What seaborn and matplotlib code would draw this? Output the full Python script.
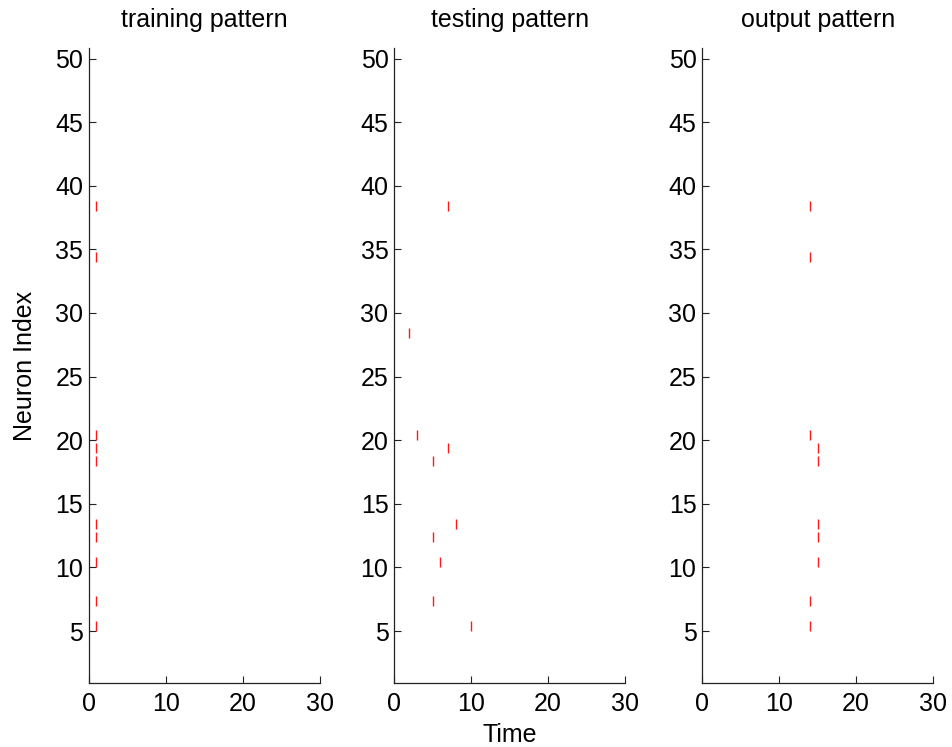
import numpy as np
import pandas as pd
import matplotlib
matplotlib.use("Agg")
import matplotlib.pyplot as plt
import seaborn as sns

# Spike rasters: neuron index and firing time for each pattern
train_neurons = [38, 34, 20, 19, 18, 13, 12, 10, 7, 5]
train_times = [1, 1, 1, 1, 1, 1, 1, 1, 1, 1]

test_neurons = [38, 28, 20, 19, 18, 13, 12, 10, 7, 5]
test_times = [7, 2, 3, 7, 5, 8, 5, 6, 5, 10]

out_neurons = [38, 34, 20, 19, 18, 13, 12, 10, 7, 5]
out_times = [14, 14, 14, 15, 15, 15, 15, 15, 14, 14]

titles = ["training pattern", "testing pattern", "output pattern"]
x_ticks = [0, 10, 20, 30]
y_ticks = [5, 10, 15, 20, 25, 30, 35, 40, 45, 50]

sns.set_theme(style="ticks")
plt.rcParams["font.family"] = ["Liberation Sans", "DejaVu Sans"]
plt.rcParams["text.color"] = "black"
plt.rcParams["axes.labelcolor"] = "black"

FS = 18
fig = plt.figure(figsize=(9.53, 7.47), dpi=100)
lefts = [0.0931, 0.4134, 0.7366]
width = 0.2427
bottom = 0.0853
height = 0.850

patterns = [
    (train_times, train_neurons),
    (test_times, test_neurons),
    (out_times, out_neurons),
]

axes = []
for i, (times, neurons) in enumerate(patterns):
    ax = fig.add_axes([lefts[i], bottom, width, height])
    df = pd.DataFrame({"time": times, "neuron": neurons})
    # each spike is a short vertical tick spanning neuron .. neuron + 0.8
    df["mid"] = df["neuron"] + 0.4
    sns.scatterplot(data=df, x="time", y="mid", marker="|", s=55,
                    color="#ff1a1a", linewidth=1.0, ax=ax, legend=False)
    ax.set_xlim(0, 30)
    ax.set_ylim(0.9, 50.8)
    ax.set_xticks(x_ticks)
    ax.set_yticks(y_ticks)
    ax.tick_params(direction="in", length=5, width=0.8, labelsize=FS,
                   colors="#222222", labelcolor="black")
    ax.tick_params(axis="y", pad=4)
    ax.tick_params(axis="x", pad=6)
    for side in ("top", "right"):
        ax.spines[side].set_visible(False)
    for side in ("left", "bottom"):
        ax.spines[side].set_linewidth(0.9)
        ax.spines[side].set_color("#222222")
    ax.set_title(titles[i], fontsize=FS, pad=15, color="black")
    ax.set_xlabel("")
    ax.set_ylabel("")
    axes.append(ax)

axes[0].set_ylabel("Neuron Index", fontsize=FS)
axes[0].yaxis.set_label_coords(-0.225, 0.5)
axes[1].set_xlabel("Time", fontsize=FS)
axes[1].xaxis.set_label_coords(0.5, -0.062)

fig.savefig("out.png", dpi=100)
